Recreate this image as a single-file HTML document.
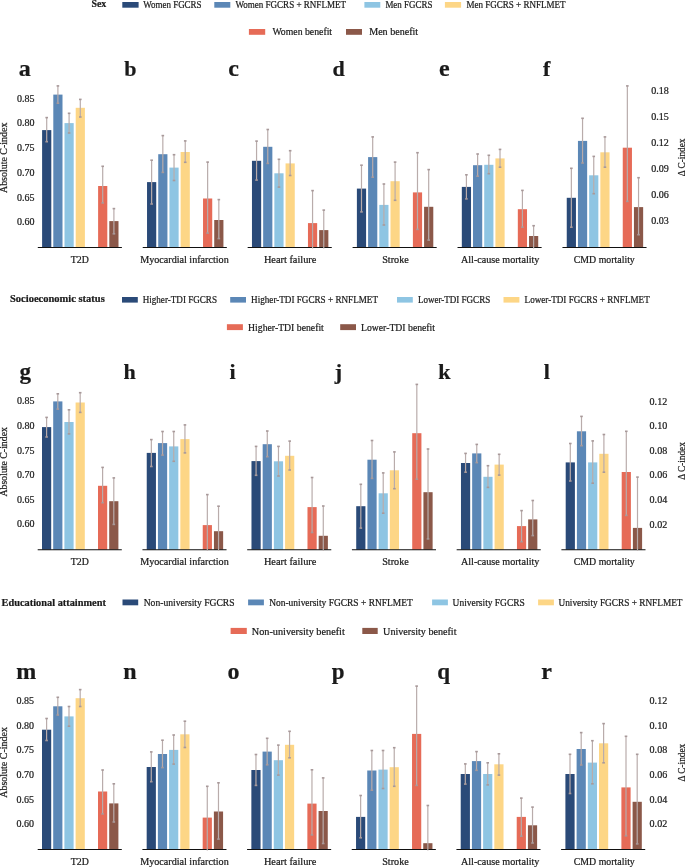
<!DOCTYPE html>
<html><head><meta charset="utf-8"><style>
html,body{margin:0;padding:0;background:#fff;width:685px;height:867px;overflow:hidden}
svg{display:block;will-change:transform}
text{font-family:"Liberation Serif", serif;fill:#1a1a1a;stroke:#1a1a1a;stroke-width:0.22px}
.e{stroke:#b9acab;stroke-width:1.2}
.c{fill:#a8999a}
.ax{stroke:#111;stroke-width:1.1}
</style></head><body>
<svg width="685" height="867" viewBox="0 0 685 867">
<rect x="42.1" y="130.1" width="9.2" height="117.4" fill="#2a4a78"/>
<rect x="53.3" y="94.6" width="9.2" height="152.9" fill="#5b87b6"/>
<rect x="64.5" y="123.1" width="9.2" height="124.4" fill="#8ec5e3"/>
<rect x="75.7" y="107.8" width="9.2" height="139.7" fill="#fdd686"/>
<rect x="98.1" y="186" width="9.2" height="61.5" fill="#e66b57"/>
<rect x="109.3" y="221.1" width="9.2" height="26.4" fill="#8b5849"/>
<line x1="37.8" y1="247.5" x2="121.9" y2="247.5" class="ax"/>
<line x1="46.7" y1="117.6" x2="46.7" y2="141.7" class="e"/>
<rect x="45.4" y="116.8" width="2.6" height="1.6" class="c"/>
<rect x="45.4" y="140.9" width="2.6" height="1.6" class="c"/>
<line x1="57.9" y1="85.9" x2="57.9" y2="103.2" class="e"/>
<rect x="56.6" y="85.1" width="2.6" height="1.6" class="c"/>
<rect x="56.6" y="102.4" width="2.6" height="1.6" class="c"/>
<line x1="69.1" y1="113.3" x2="69.1" y2="133" class="e"/>
<rect x="67.8" y="112.5" width="2.6" height="1.6" class="c"/>
<rect x="67.8" y="132.2" width="2.6" height="1.6" class="c"/>
<line x1="80.3" y1="99.4" x2="80.3" y2="117" class="e"/>
<rect x="79" y="98.6" width="2.6" height="1.6" class="c"/>
<rect x="79" y="116.2" width="2.6" height="1.6" class="c"/>
<line x1="102.7" y1="166.3" x2="102.7" y2="202.9" class="e"/>
<rect x="101.4" y="165.5" width="2.6" height="1.6" class="c"/>
<rect x="101.4" y="202.1" width="2.6" height="1.6" class="c"/>
<line x1="113.9" y1="208.6" x2="113.9" y2="233.8" class="e"/>
<rect x="112.6" y="207.8" width="2.6" height="1.6" class="c"/>
<rect x="112.6" y="233" width="2.6" height="1.6" class="c"/>
<text x="79.8" y="263" font-size="10" text-anchor="middle" textLength="18" lengthAdjust="spacingAndGlyphs">T2D</text>
<text x="24.8" y="76" font-size="24" font-weight="bold" text-anchor="middle">a</text>
<rect x="147.03" y="182.1" width="9.2" height="65.4" fill="#2a4a78"/>
<rect x="158.23" y="154.2" width="9.2" height="93.3" fill="#5b87b6"/>
<rect x="169.43" y="167.6" width="9.2" height="79.9" fill="#8ec5e3"/>
<rect x="180.63" y="152" width="9.2" height="95.5" fill="#fdd686"/>
<rect x="203.03" y="198.5" width="9.2" height="49" fill="#e66b57"/>
<rect x="214.23" y="220" width="9.2" height="27.5" fill="#8b5849"/>
<line x1="142.73" y1="247.5" x2="226.83" y2="247.5" class="ax"/>
<line x1="151.63" y1="160.2" x2="151.63" y2="204" class="e"/>
<rect x="150.33" y="159.4" width="2.6" height="1.6" class="c"/>
<rect x="150.33" y="203.2" width="2.6" height="1.6" class="c"/>
<line x1="162.83" y1="135.6" x2="162.83" y2="172.4" class="e"/>
<rect x="161.53" y="134.8" width="2.6" height="1.6" class="c"/>
<rect x="161.53" y="171.6" width="2.6" height="1.6" class="c"/>
<line x1="174.03" y1="154.7" x2="174.03" y2="180.5" class="e"/>
<rect x="172.73" y="153.9" width="2.6" height="1.6" class="c"/>
<rect x="172.73" y="179.7" width="2.6" height="1.6" class="c"/>
<line x1="185.23" y1="140.9" x2="185.23" y2="162.3" class="e"/>
<rect x="183.93" y="140.1" width="2.6" height="1.6" class="c"/>
<rect x="183.93" y="161.5" width="2.6" height="1.6" class="c"/>
<line x1="207.63" y1="162.1" x2="207.63" y2="233.1" class="e"/>
<rect x="206.33" y="161.3" width="2.6" height="1.6" class="c"/>
<rect x="206.33" y="232.3" width="2.6" height="1.6" class="c"/>
<line x1="218.83" y1="199.6" x2="218.83" y2="238.6" class="e"/>
<rect x="217.53" y="198.8" width="2.6" height="1.6" class="c"/>
<rect x="217.53" y="237.8" width="2.6" height="1.6" class="c"/>
<text x="184.45" y="263" font-size="10" text-anchor="middle" textLength="88.5" lengthAdjust="spacingAndGlyphs">Myocardial infarction</text>
<text x="130.3" y="76" font-size="22" font-weight="bold" text-anchor="middle">b</text>
<rect x="251.96" y="160.8" width="9.2" height="86.7" fill="#2a4a78"/>
<rect x="263.16" y="146.8" width="9.2" height="100.7" fill="#5b87b6"/>
<rect x="274.36" y="173.3" width="9.2" height="74.2" fill="#8ec5e3"/>
<rect x="285.56" y="163.4" width="9.2" height="84.1" fill="#fdd686"/>
<rect x="307.96" y="223.1" width="9.2" height="24.4" fill="#e66b57"/>
<rect x="319.16" y="230.1" width="9.2" height="17.4" fill="#8b5849"/>
<line x1="247.66" y1="247.5" x2="331.76" y2="247.5" class="ax"/>
<line x1="256.56" y1="141.1" x2="256.56" y2="180.1" class="e"/>
<rect x="255.26" y="140.3" width="2.6" height="1.6" class="c"/>
<rect x="255.26" y="179.3" width="2.6" height="1.6" class="c"/>
<line x1="267.76" y1="129.5" x2="267.76" y2="163.4" class="e"/>
<rect x="266.46" y="128.7" width="2.6" height="1.6" class="c"/>
<rect x="266.46" y="162.6" width="2.6" height="1.6" class="c"/>
<line x1="278.96" y1="159.3" x2="278.96" y2="187.1" class="e"/>
<rect x="277.66" y="158.5" width="2.6" height="1.6" class="c"/>
<rect x="277.66" y="186.3" width="2.6" height="1.6" class="c"/>
<line x1="290.16" y1="150.7" x2="290.16" y2="175.5" class="e"/>
<rect x="288.86" y="149.9" width="2.6" height="1.6" class="c"/>
<rect x="288.86" y="174.7" width="2.6" height="1.6" class="c"/>
<line x1="312.56" y1="190.6" x2="312.56" y2="248.5" class="e"/>
<rect x="311.26" y="189.8" width="2.6" height="1.6" class="c"/>
<line x1="323.76" y1="210.1" x2="323.76" y2="248.5" class="e"/>
<rect x="322.46" y="209.3" width="2.6" height="1.6" class="c"/>
<text x="290.15" y="263" font-size="10" text-anchor="middle" textLength="52.5" lengthAdjust="spacingAndGlyphs">Heart failure</text>
<text x="233.7" y="76" font-size="24" font-weight="bold" text-anchor="middle">c</text>
<rect x="356.89" y="188.6" width="9.2" height="58.9" fill="#2a4a78"/>
<rect x="368.09" y="157.1" width="9.2" height="90.4" fill="#5b87b6"/>
<rect x="379.29" y="204.9" width="9.2" height="42.6" fill="#8ec5e3"/>
<rect x="390.49" y="181.2" width="9.2" height="66.3" fill="#fdd686"/>
<rect x="412.89" y="192.4" width="9.2" height="55.1" fill="#e66b57"/>
<rect x="424.09" y="206.8" width="9.2" height="40.7" fill="#8b5849"/>
<line x1="352.59" y1="247.5" x2="436.69" y2="247.5" class="ax"/>
<line x1="361.49" y1="165.2" x2="361.49" y2="211.9" class="e"/>
<rect x="360.19" y="164.4" width="2.6" height="1.6" class="c"/>
<rect x="360.19" y="211.1" width="2.6" height="1.6" class="c"/>
<line x1="372.69" y1="136.9" x2="372.69" y2="177.2" class="e"/>
<rect x="371.39" y="136.1" width="2.6" height="1.6" class="c"/>
<rect x="371.39" y="176.4" width="2.6" height="1.6" class="c"/>
<line x1="383.89" y1="184" x2="383.89" y2="225" class="e"/>
<rect x="382.59" y="183.2" width="2.6" height="1.6" class="c"/>
<rect x="382.59" y="224.2" width="2.6" height="1.6" class="c"/>
<line x1="395.09" y1="162.1" x2="395.09" y2="200.3" class="e"/>
<rect x="393.79" y="161.3" width="2.6" height="1.6" class="c"/>
<rect x="393.79" y="199.5" width="2.6" height="1.6" class="c"/>
<line x1="417.49" y1="152.7" x2="417.49" y2="229.4" class="e"/>
<rect x="416.19" y="151.9" width="2.6" height="1.6" class="c"/>
<rect x="416.19" y="228.6" width="2.6" height="1.6" class="c"/>
<line x1="428.69" y1="169.6" x2="428.69" y2="240.1" class="e"/>
<rect x="427.39" y="168.8" width="2.6" height="1.6" class="c"/>
<rect x="427.39" y="239.3" width="2.6" height="1.6" class="c"/>
<text x="395.5" y="263" font-size="10" text-anchor="middle" textLength="26.6" lengthAdjust="spacingAndGlyphs">Stroke</text>
<text x="338.5" y="76" font-size="22" font-weight="bold" text-anchor="middle">d</text>
<rect x="461.82" y="186.9" width="9.2" height="60.6" fill="#2a4a78"/>
<rect x="473.02" y="165.2" width="9.2" height="82.3" fill="#5b87b6"/>
<rect x="484.22" y="164.8" width="9.2" height="82.7" fill="#8ec5e3"/>
<rect x="495.42" y="158.4" width="9.2" height="89.1" fill="#fdd686"/>
<rect x="517.82" y="209.2" width="9.2" height="38.3" fill="#e66b57"/>
<rect x="529.02" y="236" width="9.2" height="11.5" fill="#8b5849"/>
<line x1="457.52" y1="247.5" x2="541.62" y2="247.5" class="ax"/>
<line x1="466.42" y1="174.8" x2="466.42" y2="198.9" class="e"/>
<rect x="465.12" y="174" width="2.6" height="1.6" class="c"/>
<rect x="465.12" y="198.1" width="2.6" height="1.6" class="c"/>
<line x1="477.62" y1="154" x2="477.62" y2="176.2" class="e"/>
<rect x="476.32" y="153.2" width="2.6" height="1.6" class="c"/>
<rect x="476.32" y="175.4" width="2.6" height="1.6" class="c"/>
<line x1="488.82" y1="155.3" x2="488.82" y2="173.7" class="e"/>
<rect x="487.52" y="154.5" width="2.6" height="1.6" class="c"/>
<rect x="487.52" y="172.9" width="2.6" height="1.6" class="c"/>
<line x1="500.02" y1="149.4" x2="500.02" y2="167.2" class="e"/>
<rect x="498.72" y="148.6" width="2.6" height="1.6" class="c"/>
<rect x="498.72" y="166.4" width="2.6" height="1.6" class="c"/>
<line x1="522.42" y1="190.4" x2="522.42" y2="227.2" class="e"/>
<rect x="521.12" y="189.6" width="2.6" height="1.6" class="c"/>
<rect x="521.12" y="226.4" width="2.6" height="1.6" class="c"/>
<line x1="533.62" y1="225.7" x2="533.62" y2="248.5" class="e"/>
<rect x="532.32" y="224.9" width="2.6" height="1.6" class="c"/>
<text x="500.2" y="263" font-size="10" text-anchor="middle" textLength="78.4" lengthAdjust="spacingAndGlyphs">All-cause mortality</text>
<text x="444.4" y="76" font-size="24" font-weight="bold" text-anchor="middle">e</text>
<rect x="566.75" y="197.8" width="9.2" height="49.7" fill="#2a4a78"/>
<rect x="577.95" y="140.9" width="9.2" height="106.6" fill="#5b87b6"/>
<rect x="589.15" y="175.3" width="9.2" height="72.2" fill="#8ec5e3"/>
<rect x="600.35" y="152.3" width="9.2" height="95.2" fill="#fdd686"/>
<rect x="622.75" y="147.7" width="9.2" height="99.8" fill="#e66b57"/>
<rect x="633.95" y="207.1" width="9.2" height="40.4" fill="#8b5849"/>
<line x1="562.45" y1="247.5" x2="646.55" y2="247.5" class="ax"/>
<line x1="571.35" y1="168.3" x2="571.35" y2="227.2" class="e"/>
<rect x="570.05" y="167.5" width="2.6" height="1.6" class="c"/>
<rect x="570.05" y="226.4" width="2.6" height="1.6" class="c"/>
<line x1="582.55" y1="118.3" x2="582.55" y2="163" class="e"/>
<rect x="581.25" y="117.5" width="2.6" height="1.6" class="c"/>
<rect x="581.25" y="162.2" width="2.6" height="1.6" class="c"/>
<line x1="593.75" y1="156.4" x2="593.75" y2="193.7" class="e"/>
<rect x="592.45" y="155.6" width="2.6" height="1.6" class="c"/>
<rect x="592.45" y="192.9" width="2.6" height="1.6" class="c"/>
<line x1="604.95" y1="136.9" x2="604.95" y2="167.2" class="e"/>
<rect x="603.65" y="136.1" width="2.6" height="1.6" class="c"/>
<rect x="603.65" y="166.4" width="2.6" height="1.6" class="c"/>
<line x1="627.35" y1="85.9" x2="627.35" y2="201.4" class="e"/>
<rect x="626.05" y="85.1" width="2.6" height="1.6" class="c"/>
<rect x="626.05" y="200.6" width="2.6" height="1.6" class="c"/>
<line x1="638.55" y1="177.7" x2="638.55" y2="234.7" class="e"/>
<rect x="637.25" y="176.9" width="2.6" height="1.6" class="c"/>
<rect x="637.25" y="233.9" width="2.6" height="1.6" class="c"/>
<text x="604.3" y="263" font-size="10" text-anchor="middle" textLength="61" lengthAdjust="spacingAndGlyphs">CMD mortality</text>
<text x="546.7" y="76" font-size="22" font-weight="bold" text-anchor="middle">f</text>
<text x="34.6" y="101.8" font-size="10" text-anchor="end" textLength="17.5" lengthAdjust="spacingAndGlyphs">0.85</text>
<text x="34.6" y="126.4" font-size="10" text-anchor="end" textLength="17.5" lengthAdjust="spacingAndGlyphs">0.80</text>
<text x="34.6" y="151" font-size="10" text-anchor="end" textLength="17.5" lengthAdjust="spacingAndGlyphs">0.75</text>
<text x="34.6" y="175.8" font-size="10" text-anchor="end" textLength="17.5" lengthAdjust="spacingAndGlyphs">0.70</text>
<text x="34.6" y="200.6" font-size="10" text-anchor="end" textLength="17.5" lengthAdjust="spacingAndGlyphs">0.65</text>
<text x="34.6" y="225.4" font-size="10" text-anchor="end" textLength="17.5" lengthAdjust="spacingAndGlyphs">0.60</text>
<text x="651.3" y="94.1" font-size="10" textLength="17.6" lengthAdjust="spacingAndGlyphs">0.18</text>
<text x="651.3" y="120.2" font-size="10" textLength="17.6" lengthAdjust="spacingAndGlyphs">0.15</text>
<text x="651.3" y="146" font-size="10" textLength="17.6" lengthAdjust="spacingAndGlyphs">0.12</text>
<text x="651.3" y="171.9" font-size="10" textLength="17.6" lengthAdjust="spacingAndGlyphs">0.09</text>
<text x="651.3" y="197.9" font-size="10" textLength="17.6" lengthAdjust="spacingAndGlyphs">0.06</text>
<text x="651.3" y="223.9" font-size="10" textLength="17.6" lengthAdjust="spacingAndGlyphs">0.03</text>
<text x="0" y="0" font-size="9.5" text-anchor="middle" textLength="70.5" lengthAdjust="spacingAndGlyphs" transform="translate(7.2,157.8) rotate(-90)">Absolute C-index</text>
<text x="0" y="0" font-size="9.5" text-anchor="middle" textLength="37.7" lengthAdjust="spacingAndGlyphs" transform="translate(685.3,157.4) rotate(-90)">Δ C-index</text>
<rect x="42" y="427.1" width="9.2" height="122.6" fill="#2a4a78"/>
<rect x="53.2" y="401.4" width="9.2" height="148.3" fill="#5b87b6"/>
<rect x="64.4" y="422" width="9.2" height="127.7" fill="#8ec5e3"/>
<rect x="75.6" y="402.5" width="9.2" height="147.2" fill="#fdd686"/>
<rect x="98" y="485.8" width="9.2" height="63.9" fill="#e66b57"/>
<rect x="109.2" y="501.2" width="9.2" height="48.5" fill="#8b5849"/>
<line x1="37.7" y1="549.7" x2="121.8" y2="549.7" class="ax"/>
<line x1="46.6" y1="417.4" x2="46.6" y2="437" class="e"/>
<rect x="45.3" y="416.6" width="2.6" height="1.6" class="c"/>
<rect x="45.3" y="436.2" width="2.6" height="1.6" class="c"/>
<line x1="57.8" y1="393.8" x2="57.8" y2="409.1" class="e"/>
<rect x="56.5" y="393" width="2.6" height="1.6" class="c"/>
<rect x="56.5" y="408.3" width="2.6" height="1.6" class="c"/>
<line x1="69" y1="409.8" x2="69" y2="433.9" class="e"/>
<rect x="67.7" y="409" width="2.6" height="1.6" class="c"/>
<rect x="67.7" y="433.1" width="2.6" height="1.6" class="c"/>
<line x1="80.2" y1="392.7" x2="80.2" y2="412.4" class="e"/>
<rect x="78.9" y="391.9" width="2.6" height="1.6" class="c"/>
<rect x="78.9" y="411.6" width="2.6" height="1.6" class="c"/>
<line x1="102.6" y1="467.4" x2="102.6" y2="502.7" class="e"/>
<rect x="101.3" y="466.6" width="2.6" height="1.6" class="c"/>
<rect x="101.3" y="501.9" width="2.6" height="1.6" class="c"/>
<line x1="113.8" y1="477.9" x2="113.8" y2="524.4" class="e"/>
<rect x="112.5" y="477.1" width="2.6" height="1.6" class="c"/>
<rect x="112.5" y="523.6" width="2.6" height="1.6" class="c"/>
<text x="79.8" y="565.4" font-size="10" text-anchor="middle" textLength="18" lengthAdjust="spacingAndGlyphs">T2D</text>
<text x="25.3" y="378.8" font-size="23" font-weight="bold" text-anchor="middle">g</text>
<rect x="146.74" y="452.9" width="9.2" height="96.8" fill="#2a4a78"/>
<rect x="157.94" y="443.1" width="9.2" height="106.6" fill="#5b87b6"/>
<rect x="169.14" y="446.4" width="9.2" height="103.3" fill="#8ec5e3"/>
<rect x="180.34" y="439.1" width="9.2" height="110.6" fill="#fdd686"/>
<rect x="202.74" y="525.1" width="9.2" height="24.6" fill="#e66b57"/>
<rect x="213.94" y="531.2" width="9.2" height="18.5" fill="#8b5849"/>
<line x1="142.44" y1="549.7" x2="226.54" y2="549.7" class="ax"/>
<line x1="151.34" y1="439.6" x2="151.34" y2="466.5" class="e"/>
<rect x="150.04" y="438.8" width="2.6" height="1.6" class="c"/>
<rect x="150.04" y="465.7" width="2.6" height="1.6" class="c"/>
<line x1="162.54" y1="431.5" x2="162.54" y2="455.1" class="e"/>
<rect x="161.24" y="430.7" width="2.6" height="1.6" class="c"/>
<rect x="161.24" y="454.3" width="2.6" height="1.6" class="c"/>
<line x1="173.74" y1="431.5" x2="173.74" y2="461.3" class="e"/>
<rect x="172.44" y="430.7" width="2.6" height="1.6" class="c"/>
<rect x="172.44" y="460.5" width="2.6" height="1.6" class="c"/>
<line x1="184.94" y1="424.9" x2="184.94" y2="452.9" class="e"/>
<rect x="183.64" y="424.1" width="2.6" height="1.6" class="c"/>
<rect x="183.64" y="452.1" width="2.6" height="1.6" class="c"/>
<line x1="207.34" y1="494.6" x2="207.34" y2="550.7" class="e"/>
<rect x="206.04" y="493.8" width="2.6" height="1.6" class="c"/>
<line x1="218.54" y1="506.2" x2="218.54" y2="550.7" class="e"/>
<rect x="217.24" y="505.4" width="2.6" height="1.6" class="c"/>
<text x="184.45" y="565.4" font-size="10" text-anchor="middle" textLength="88.5" lengthAdjust="spacingAndGlyphs">Myocardial infarction</text>
<text x="129.5" y="378.8" font-size="22" font-weight="bold" text-anchor="middle">h</text>
<rect x="251.48" y="461.1" width="9.2" height="88.6" fill="#2a4a78"/>
<rect x="262.68" y="444.2" width="9.2" height="105.5" fill="#5b87b6"/>
<rect x="273.88" y="461.3" width="9.2" height="88.4" fill="#8ec5e3"/>
<rect x="285.08" y="455.8" width="9.2" height="93.9" fill="#fdd686"/>
<rect x="307.48" y="507.1" width="9.2" height="42.6" fill="#e66b57"/>
<rect x="318.68" y="535.8" width="9.2" height="13.9" fill="#8b5849"/>
<line x1="247.18" y1="549.7" x2="331.28" y2="549.7" class="ax"/>
<line x1="256.08" y1="446.4" x2="256.08" y2="475.3" class="e"/>
<rect x="254.78" y="445.6" width="2.6" height="1.6" class="c"/>
<rect x="254.78" y="474.5" width="2.6" height="1.6" class="c"/>
<line x1="267.28" y1="431" x2="267.28" y2="456.7" class="e"/>
<rect x="265.98" y="430.2" width="2.6" height="1.6" class="c"/>
<rect x="265.98" y="455.9" width="2.6" height="1.6" class="c"/>
<line x1="278.48" y1="446.4" x2="278.48" y2="476" class="e"/>
<rect x="277.18" y="445.6" width="2.6" height="1.6" class="c"/>
<rect x="277.18" y="475.2" width="2.6" height="1.6" class="c"/>
<line x1="289.68" y1="441.1" x2="289.68" y2="470" class="e"/>
<rect x="288.38" y="440.3" width="2.6" height="1.6" class="c"/>
<rect x="288.38" y="469.2" width="2.6" height="1.6" class="c"/>
<line x1="312.08" y1="477.5" x2="312.08" y2="532.5" class="e"/>
<rect x="310.78" y="476.7" width="2.6" height="1.6" class="c"/>
<rect x="310.78" y="531.7" width="2.6" height="1.6" class="c"/>
<line x1="323.28" y1="506" x2="323.28" y2="550.7" class="e"/>
<rect x="321.98" y="505.2" width="2.6" height="1.6" class="c"/>
<text x="290.15" y="565.4" font-size="10" text-anchor="middle" textLength="52.5" lengthAdjust="spacingAndGlyphs">Heart failure</text>
<text x="232.6" y="378.8" font-size="22" font-weight="bold" text-anchor="middle">i</text>
<rect x="356.22" y="506.2" width="9.2" height="43.5" fill="#2a4a78"/>
<rect x="367.42" y="459.7" width="9.2" height="90" fill="#5b87b6"/>
<rect x="378.62" y="493.3" width="9.2" height="56.4" fill="#8ec5e3"/>
<rect x="389.82" y="470.3" width="9.2" height="79.4" fill="#fdd686"/>
<rect x="412.22" y="433.2" width="9.2" height="116.5" fill="#e66b57"/>
<rect x="423.42" y="492.2" width="9.2" height="57.5" fill="#8b5849"/>
<line x1="351.92" y1="549.7" x2="436.02" y2="549.7" class="ax"/>
<line x1="360.82" y1="484.3" x2="360.82" y2="528.1" class="e"/>
<rect x="359.52" y="483.5" width="2.6" height="1.6" class="c"/>
<rect x="359.52" y="527.3" width="2.6" height="1.6" class="c"/>
<line x1="372.02" y1="440.5" x2="372.02" y2="478.4" class="e"/>
<rect x="370.72" y="439.7" width="2.6" height="1.6" class="c"/>
<rect x="370.72" y="477.6" width="2.6" height="1.6" class="c"/>
<line x1="383.22" y1="472.9" x2="383.22" y2="513.2" class="e"/>
<rect x="381.92" y="472.1" width="2.6" height="1.6" class="c"/>
<rect x="381.92" y="512.4" width="2.6" height="1.6" class="c"/>
<line x1="394.42" y1="451.9" x2="394.42" y2="488.7" class="e"/>
<rect x="393.12" y="451.1" width="2.6" height="1.6" class="c"/>
<rect x="393.12" y="487.9" width="2.6" height="1.6" class="c"/>
<line x1="416.82" y1="384.4" x2="416.82" y2="479.2" class="e"/>
<rect x="415.52" y="383.6" width="2.6" height="1.6" class="c"/>
<rect x="415.52" y="478.4" width="2.6" height="1.6" class="c"/>
<line x1="428.02" y1="449" x2="428.02" y2="538.9" class="e"/>
<rect x="426.72" y="448.2" width="2.6" height="1.6" class="c"/>
<rect x="426.72" y="538.1" width="2.6" height="1.6" class="c"/>
<text x="395.5" y="565.4" font-size="10" text-anchor="middle" textLength="26.6" lengthAdjust="spacingAndGlyphs">Stroke</text>
<text x="338.3" y="378.8" font-size="22" font-weight="bold" text-anchor="middle">j</text>
<rect x="460.96" y="463" width="9.2" height="86.7" fill="#2a4a78"/>
<rect x="472.16" y="453.4" width="9.2" height="96.3" fill="#5b87b6"/>
<rect x="483.36" y="476.8" width="9.2" height="72.9" fill="#8ec5e3"/>
<rect x="494.56" y="464.6" width="9.2" height="85.1" fill="#fdd686"/>
<rect x="516.96" y="526.1" width="9.2" height="23.6" fill="#e66b57"/>
<rect x="528.16" y="519.4" width="9.2" height="30.3" fill="#8b5849"/>
<line x1="456.66" y1="549.7" x2="540.76" y2="549.7" class="ax"/>
<line x1="465.56" y1="453.4" x2="465.56" y2="472.2" class="e"/>
<rect x="464.26" y="452.6" width="2.6" height="1.6" class="c"/>
<rect x="464.26" y="471.4" width="2.6" height="1.6" class="c"/>
<line x1="476.76" y1="444.4" x2="476.76" y2="462.6" class="e"/>
<rect x="475.46" y="443.6" width="2.6" height="1.6" class="c"/>
<rect x="475.46" y="461.8" width="2.6" height="1.6" class="c"/>
<line x1="487.96" y1="465.7" x2="487.96" y2="487.4" class="e"/>
<rect x="486.66" y="464.9" width="2.6" height="1.6" class="c"/>
<rect x="486.66" y="486.6" width="2.6" height="1.6" class="c"/>
<line x1="499.16" y1="454.3" x2="499.16" y2="475.1" class="e"/>
<rect x="497.86" y="453.5" width="2.6" height="1.6" class="c"/>
<rect x="497.86" y="474.3" width="2.6" height="1.6" class="c"/>
<line x1="521.56" y1="510.6" x2="521.56" y2="541.7" class="e"/>
<rect x="520.26" y="509.8" width="2.6" height="1.6" class="c"/>
<rect x="520.26" y="540.9" width="2.6" height="1.6" class="c"/>
<line x1="532.76" y1="500.5" x2="532.76" y2="535.6" class="e"/>
<rect x="531.46" y="499.7" width="2.6" height="1.6" class="c"/>
<rect x="531.46" y="534.8" width="2.6" height="1.6" class="c"/>
<text x="500.2" y="565.4" font-size="10" text-anchor="middle" textLength="78.4" lengthAdjust="spacingAndGlyphs">All-cause mortality</text>
<text x="444.3" y="378.8" font-size="22" font-weight="bold" text-anchor="middle">k</text>
<rect x="565.7" y="462.4" width="9.2" height="87.3" fill="#2a4a78"/>
<rect x="576.9" y="431.3" width="9.2" height="118.4" fill="#5b87b6"/>
<rect x="588.1" y="462.4" width="9.2" height="87.3" fill="#8ec5e3"/>
<rect x="599.3" y="453.8" width="9.2" height="95.9" fill="#fdd686"/>
<rect x="621.7" y="472" width="9.2" height="77.7" fill="#e66b57"/>
<rect x="632.9" y="527.9" width="9.2" height="21.8" fill="#8b5849"/>
<line x1="561.4" y1="549.7" x2="645.5" y2="549.7" class="ax"/>
<line x1="570.3" y1="443.5" x2="570.3" y2="481" class="e"/>
<rect x="569" y="442.7" width="2.6" height="1.6" class="c"/>
<rect x="569" y="480.2" width="2.6" height="1.6" class="c"/>
<line x1="581.5" y1="416.4" x2="581.5" y2="445.7" class="e"/>
<rect x="580.2" y="415.6" width="2.6" height="1.6" class="c"/>
<rect x="580.2" y="444.9" width="2.6" height="1.6" class="c"/>
<line x1="592.7" y1="440.9" x2="592.7" y2="483.2" class="e"/>
<rect x="591.4" y="440.1" width="2.6" height="1.6" class="c"/>
<rect x="591.4" y="482.4" width="2.6" height="1.6" class="c"/>
<line x1="603.9" y1="434.5" x2="603.9" y2="472.2" class="e"/>
<rect x="602.6" y="433.7" width="2.6" height="1.6" class="c"/>
<rect x="602.6" y="471.4" width="2.6" height="1.6" class="c"/>
<line x1="626.3" y1="431.3" x2="626.3" y2="515.4" class="e"/>
<rect x="625" y="430.5" width="2.6" height="1.6" class="c"/>
<rect x="625" y="514.6" width="2.6" height="1.6" class="c"/>
<line x1="637.5" y1="477.1" x2="637.5" y2="550.7" class="e"/>
<rect x="636.2" y="476.3" width="2.6" height="1.6" class="c"/>
<text x="604.3" y="565.4" font-size="10" text-anchor="middle" textLength="61" lengthAdjust="spacingAndGlyphs">CMD mortality</text>
<text x="546.7" y="378.8" font-size="22" font-weight="bold" text-anchor="middle">l</text>
<text x="34.5" y="404.3" font-size="10" text-anchor="end" textLength="17.5" lengthAdjust="spacingAndGlyphs">0.85</text>
<text x="34.5" y="429" font-size="10" text-anchor="end" textLength="17.5" lengthAdjust="spacingAndGlyphs">0.80</text>
<text x="34.5" y="453.5" font-size="10" text-anchor="end" textLength="17.5" lengthAdjust="spacingAndGlyphs">0.75</text>
<text x="34.5" y="478.1" font-size="10" text-anchor="end" textLength="17.5" lengthAdjust="spacingAndGlyphs">0.70</text>
<text x="34.5" y="502.8" font-size="10" text-anchor="end" textLength="17.5" lengthAdjust="spacingAndGlyphs">0.65</text>
<text x="34.5" y="527.3" font-size="10" text-anchor="end" textLength="17.5" lengthAdjust="spacingAndGlyphs">0.60</text>
<text x="649.6" y="404.5" font-size="10" textLength="17.6" lengthAdjust="spacingAndGlyphs">0.12</text>
<text x="649.6" y="429.1" font-size="10" textLength="17.6" lengthAdjust="spacingAndGlyphs">0.10</text>
<text x="649.6" y="453.8" font-size="10" textLength="17.6" lengthAdjust="spacingAndGlyphs">0.08</text>
<text x="649.6" y="478.3" font-size="10" textLength="17.6" lengthAdjust="spacingAndGlyphs">0.06</text>
<text x="649.6" y="503" font-size="10" textLength="17.6" lengthAdjust="spacingAndGlyphs">0.04</text>
<text x="649.6" y="527.6" font-size="10" textLength="17.6" lengthAdjust="spacingAndGlyphs">0.02</text>
<text x="0" y="0" font-size="9.5" text-anchor="middle" textLength="69.5" lengthAdjust="spacingAndGlyphs" transform="translate(7.2,461.8) rotate(-90)">Absolute C-index</text>
<text x="0" y="0" font-size="9.5" text-anchor="middle" textLength="37.7" lengthAdjust="spacingAndGlyphs" transform="translate(685.3,461) rotate(-90)">Δ C-index</text>
<rect x="42" y="729.7" width="9.2" height="119.8" fill="#2a4a78"/>
<rect x="53.2" y="706.3" width="9.2" height="143.2" fill="#5b87b6"/>
<rect x="64.4" y="716.4" width="9.2" height="133.1" fill="#8ec5e3"/>
<rect x="75.6" y="698.2" width="9.2" height="151.3" fill="#fdd686"/>
<rect x="98" y="791.5" width="9.2" height="58" fill="#e66b57"/>
<rect x="109.2" y="803.4" width="9.2" height="46.1" fill="#8b5849"/>
<line x1="37.7" y1="849.5" x2="121.8" y2="849.5" class="ax"/>
<line x1="46.6" y1="718.5" x2="46.6" y2="740.5" class="e"/>
<rect x="45.3" y="717.7" width="2.6" height="1.6" class="c"/>
<rect x="45.3" y="739.7" width="2.6" height="1.6" class="c"/>
<line x1="57.8" y1="697.3" x2="57.8" y2="715" class="e"/>
<rect x="56.5" y="696.5" width="2.6" height="1.6" class="c"/>
<rect x="56.5" y="714.2" width="2.6" height="1.6" class="c"/>
<line x1="69" y1="706.5" x2="69" y2="726.2" class="e"/>
<rect x="67.7" y="705.7" width="2.6" height="1.6" class="c"/>
<rect x="67.7" y="725.4" width="2.6" height="1.6" class="c"/>
<line x1="80.2" y1="689.6" x2="80.2" y2="706.5" class="e"/>
<rect x="78.9" y="688.8" width="2.6" height="1.6" class="c"/>
<rect x="78.9" y="705.7" width="2.6" height="1.6" class="c"/>
<line x1="102.6" y1="770" x2="102.6" y2="813.9" class="e"/>
<rect x="101.3" y="769.2" width="2.6" height="1.6" class="c"/>
<rect x="101.3" y="813.1" width="2.6" height="1.6" class="c"/>
<line x1="113.8" y1="783.8" x2="113.8" y2="822" class="e"/>
<rect x="112.5" y="783" width="2.6" height="1.6" class="c"/>
<rect x="112.5" y="821.2" width="2.6" height="1.6" class="c"/>
<text x="79.8" y="865.2" font-size="10" text-anchor="middle" textLength="18" lengthAdjust="spacingAndGlyphs">T2D</text>
<text x="26.2" y="678.6" font-size="24" font-weight="bold" text-anchor="middle">m</text>
<rect x="146.68" y="767" width="9.2" height="82.5" fill="#2a4a78"/>
<rect x="157.88" y="754" width="9.2" height="95.5" fill="#5b87b6"/>
<rect x="169.08" y="749.9" width="9.2" height="99.6" fill="#8ec5e3"/>
<rect x="180.28" y="734.3" width="9.2" height="115.2" fill="#fdd686"/>
<rect x="202.68" y="817.6" width="9.2" height="31.9" fill="#e66b57"/>
<rect x="213.88" y="811.5" width="9.2" height="38" fill="#8b5849"/>
<line x1="142.38" y1="849.5" x2="226.48" y2="849.5" class="ax"/>
<line x1="151.28" y1="751.9" x2="151.28" y2="781.7" class="e"/>
<rect x="149.98" y="751.1" width="2.6" height="1.6" class="c"/>
<rect x="149.98" y="780.9" width="2.6" height="1.6" class="c"/>
<line x1="162.48" y1="740.2" x2="162.48" y2="767.6" class="e"/>
<rect x="161.18" y="739.4" width="2.6" height="1.6" class="c"/>
<rect x="161.18" y="766.8" width="2.6" height="1.6" class="c"/>
<line x1="173.68" y1="735" x2="173.68" y2="764.1" class="e"/>
<rect x="172.38" y="734.2" width="2.6" height="1.6" class="c"/>
<rect x="172.38" y="763.3" width="2.6" height="1.6" class="c"/>
<line x1="184.88" y1="721.2" x2="184.88" y2="747.5" class="e"/>
<rect x="183.58" y="720.4" width="2.6" height="1.6" class="c"/>
<rect x="183.58" y="746.7" width="2.6" height="1.6" class="c"/>
<line x1="207.28" y1="786.3" x2="207.28" y2="850.5" class="e"/>
<rect x="205.98" y="785.5" width="2.6" height="1.6" class="c"/>
<line x1="218.48" y1="782.8" x2="218.48" y2="839.1" class="e"/>
<rect x="217.18" y="782" width="2.6" height="1.6" class="c"/>
<rect x="217.18" y="838.3" width="2.6" height="1.6" class="c"/>
<text x="184.45" y="865.2" font-size="10" text-anchor="middle" textLength="88.5" lengthAdjust="spacingAndGlyphs">Myocardial infarction</text>
<text x="130" y="678.6" font-size="24" font-weight="bold" text-anchor="middle">n</text>
<rect x="251.36" y="770" width="9.2" height="79.5" fill="#2a4a78"/>
<rect x="262.56" y="751.6" width="9.2" height="97.9" fill="#5b87b6"/>
<rect x="273.76" y="760.2" width="9.2" height="89.3" fill="#8ec5e3"/>
<rect x="284.96" y="744.8" width="9.2" height="104.7" fill="#fdd686"/>
<rect x="307.36" y="803.6" width="9.2" height="45.9" fill="#e66b57"/>
<rect x="318.56" y="811" width="9.2" height="38.5" fill="#8b5849"/>
<line x1="247.06" y1="849.5" x2="331.16" y2="849.5" class="ax"/>
<line x1="255.96" y1="754.5" x2="255.96" y2="785.4" class="e"/>
<rect x="254.66" y="753.7" width="2.6" height="1.6" class="c"/>
<rect x="254.66" y="784.6" width="2.6" height="1.6" class="c"/>
<line x1="267.16" y1="738.3" x2="267.16" y2="764.8" class="e"/>
<rect x="265.86" y="737.5" width="2.6" height="1.6" class="c"/>
<rect x="265.86" y="764" width="2.6" height="1.6" class="c"/>
<line x1="278.36" y1="745.1" x2="278.36" y2="775.1" class="e"/>
<rect x="277.06" y="744.3" width="2.6" height="1.6" class="c"/>
<rect x="277.06" y="774.3" width="2.6" height="1.6" class="c"/>
<line x1="289.56" y1="731.3" x2="289.56" y2="757.8" class="e"/>
<rect x="288.26" y="730.5" width="2.6" height="1.6" class="c"/>
<rect x="288.26" y="757" width="2.6" height="1.6" class="c"/>
<line x1="311.96" y1="769.8" x2="311.96" y2="834.9" class="e"/>
<rect x="310.66" y="769" width="2.6" height="1.6" class="c"/>
<rect x="310.66" y="834.1" width="2.6" height="1.6" class="c"/>
<line x1="323.16" y1="777.9" x2="323.16" y2="843.5" class="e"/>
<rect x="321.86" y="777.1" width="2.6" height="1.6" class="c"/>
<rect x="321.86" y="842.7" width="2.6" height="1.6" class="c"/>
<text x="290.15" y="865.2" font-size="10" text-anchor="middle" textLength="52.5" lengthAdjust="spacingAndGlyphs">Heart failure</text>
<text x="233.5" y="678.6" font-size="24" font-weight="bold" text-anchor="middle">o</text>
<rect x="356.04" y="816.9" width="9.2" height="32.6" fill="#2a4a78"/>
<rect x="367.24" y="770.5" width="9.2" height="79" fill="#5b87b6"/>
<rect x="378.44" y="769.6" width="9.2" height="79.9" fill="#8ec5e3"/>
<rect x="389.64" y="767.2" width="9.2" height="82.3" fill="#fdd686"/>
<rect x="412.04" y="733.9" width="9.2" height="115.6" fill="#e66b57"/>
<rect x="423.24" y="843.2" width="9.2" height="6.3" fill="#8b5849"/>
<line x1="351.74" y1="849.5" x2="435.84" y2="849.5" class="ax"/>
<line x1="360.64" y1="795.5" x2="360.64" y2="837.8" class="e"/>
<rect x="359.34" y="794.7" width="2.6" height="1.6" class="c"/>
<rect x="359.34" y="837" width="2.6" height="1.6" class="c"/>
<line x1="371.84" y1="750.5" x2="371.84" y2="790.2" class="e"/>
<rect x="370.54" y="749.7" width="2.6" height="1.6" class="c"/>
<rect x="370.54" y="789.4" width="2.6" height="1.6" class="c"/>
<line x1="383.04" y1="750.5" x2="383.04" y2="788.5" class="e"/>
<rect x="381.74" y="749.7" width="2.6" height="1.6" class="c"/>
<rect x="381.74" y="787.7" width="2.6" height="1.6" class="c"/>
<line x1="394.24" y1="747.7" x2="394.24" y2="786.3" class="e"/>
<rect x="392.94" y="746.9" width="2.6" height="1.6" class="c"/>
<rect x="392.94" y="785.5" width="2.6" height="1.6" class="c"/>
<line x1="416.64" y1="686.1" x2="416.64" y2="785.4" class="e"/>
<rect x="415.34" y="685.3" width="2.6" height="1.6" class="c"/>
<rect x="415.34" y="784.6" width="2.6" height="1.6" class="c"/>
<line x1="427.84" y1="805.5" x2="427.84" y2="850.5" class="e"/>
<rect x="426.54" y="804.7" width="2.6" height="1.6" class="c"/>
<text x="395.5" y="865.2" font-size="10" text-anchor="middle" textLength="26.6" lengthAdjust="spacingAndGlyphs">Stroke</text>
<text x="338.1" y="678.6" font-size="23" font-weight="bold" text-anchor="middle">p</text>
<rect x="460.72" y="774" width="9.2" height="75.5" fill="#2a4a78"/>
<rect x="471.92" y="761.1" width="9.2" height="88.4" fill="#5b87b6"/>
<rect x="483.12" y="774" width="9.2" height="75.5" fill="#8ec5e3"/>
<rect x="494.32" y="764.3" width="9.2" height="85.2" fill="#fdd686"/>
<rect x="516.72" y="816.9" width="9.2" height="32.6" fill="#e66b57"/>
<rect x="527.92" y="825.3" width="9.2" height="24.2" fill="#8b5849"/>
<line x1="456.42" y1="849.5" x2="540.52" y2="849.5" class="ax"/>
<line x1="465.32" y1="763.9" x2="465.32" y2="784.1" class="e"/>
<rect x="464.02" y="763.1" width="2.6" height="1.6" class="c"/>
<rect x="464.02" y="783.3" width="2.6" height="1.6" class="c"/>
<line x1="476.52" y1="751.6" x2="476.52" y2="770.3" class="e"/>
<rect x="475.22" y="750.8" width="2.6" height="1.6" class="c"/>
<rect x="475.22" y="769.5" width="2.6" height="1.6" class="c"/>
<line x1="487.72" y1="762.8" x2="487.72" y2="784.9" class="e"/>
<rect x="486.42" y="762" width="2.6" height="1.6" class="c"/>
<rect x="486.42" y="784.1" width="2.6" height="1.6" class="c"/>
<line x1="498.92" y1="753.8" x2="498.92" y2="775.1" class="e"/>
<rect x="497.62" y="753" width="2.6" height="1.6" class="c"/>
<rect x="497.62" y="774.3" width="2.6" height="1.6" class="c"/>
<line x1="521.32" y1="798.1" x2="521.32" y2="836.2" class="e"/>
<rect x="520.02" y="797.3" width="2.6" height="1.6" class="c"/>
<rect x="520.02" y="835.4" width="2.6" height="1.6" class="c"/>
<line x1="532.52" y1="807.1" x2="532.52" y2="843" class="e"/>
<rect x="531.22" y="806.3" width="2.6" height="1.6" class="c"/>
<rect x="531.22" y="842.2" width="2.6" height="1.6" class="c"/>
<text x="500.2" y="865.2" font-size="10" text-anchor="middle" textLength="78.4" lengthAdjust="spacingAndGlyphs">All-cause mortality</text>
<text x="443.6" y="678.6" font-size="23" font-weight="bold" text-anchor="middle">q</text>
<rect x="565.4" y="774" width="9.2" height="75.5" fill="#2a4a78"/>
<rect x="576.6" y="749" width="9.2" height="100.5" fill="#5b87b6"/>
<rect x="587.8" y="762.6" width="9.2" height="86.9" fill="#8ec5e3"/>
<rect x="599" y="743.3" width="9.2" height="106.2" fill="#fdd686"/>
<rect x="621.4" y="787.4" width="9.2" height="62.1" fill="#e66b57"/>
<rect x="632.6" y="801.8" width="9.2" height="47.7" fill="#8b5849"/>
<line x1="561.1" y1="849.5" x2="645.2" y2="849.5" class="ax"/>
<line x1="570" y1="754.3" x2="570" y2="793.5" class="e"/>
<rect x="568.7" y="753.5" width="2.6" height="1.6" class="c"/>
<rect x="568.7" y="792.7" width="2.6" height="1.6" class="c"/>
<line x1="581.2" y1="732.6" x2="581.2" y2="765" class="e"/>
<rect x="579.9" y="731.8" width="2.6" height="1.6" class="c"/>
<rect x="579.9" y="764.2" width="2.6" height="1.6" class="c"/>
<line x1="592.4" y1="740.7" x2="592.4" y2="783.8" class="e"/>
<rect x="591.1" y="739.9" width="2.6" height="1.6" class="c"/>
<rect x="591.1" y="783" width="2.6" height="1.6" class="c"/>
<line x1="603.6" y1="723.6" x2="603.6" y2="762.8" class="e"/>
<rect x="602.3" y="722.8" width="2.6" height="1.6" class="c"/>
<rect x="602.3" y="762" width="2.6" height="1.6" class="c"/>
<line x1="626" y1="736.3" x2="626" y2="835.8" class="e"/>
<rect x="624.7" y="735.5" width="2.6" height="1.6" class="c"/>
<rect x="624.7" y="835" width="2.6" height="1.6" class="c"/>
<line x1="637.2" y1="754.3" x2="637.2" y2="843.9" class="e"/>
<rect x="635.9" y="753.5" width="2.6" height="1.6" class="c"/>
<rect x="635.9" y="843.1" width="2.6" height="1.6" class="c"/>
<text x="604.3" y="865.2" font-size="10" text-anchor="middle" textLength="61" lengthAdjust="spacingAndGlyphs">CMD mortality</text>
<text x="546.6" y="678.6" font-size="24" font-weight="bold" text-anchor="middle">r</text>
<text x="34.1" y="704.2" font-size="10" text-anchor="end" textLength="17.5" lengthAdjust="spacingAndGlyphs">0.85</text>
<text x="34.1" y="728.5" font-size="10" text-anchor="end" textLength="17.5" lengthAdjust="spacingAndGlyphs">0.80</text>
<text x="34.1" y="753" font-size="10" text-anchor="end" textLength="17.5" lengthAdjust="spacingAndGlyphs">0.75</text>
<text x="34.1" y="777.8" font-size="10" text-anchor="end" textLength="17.5" lengthAdjust="spacingAndGlyphs">0.70</text>
<text x="34.1" y="802.6" font-size="10" text-anchor="end" textLength="17.5" lengthAdjust="spacingAndGlyphs">0.65</text>
<text x="34.1" y="826.9" font-size="10" text-anchor="end" textLength="17.5" lengthAdjust="spacingAndGlyphs">0.60</text>
<text x="649.6" y="704.2" font-size="10" textLength="17.6" lengthAdjust="spacingAndGlyphs">0.12</text>
<text x="649.6" y="728.7" font-size="10" textLength="17.6" lengthAdjust="spacingAndGlyphs">0.10</text>
<text x="649.6" y="753.4" font-size="10" textLength="17.6" lengthAdjust="spacingAndGlyphs">0.08</text>
<text x="649.6" y="778" font-size="10" textLength="17.6" lengthAdjust="spacingAndGlyphs">0.06</text>
<text x="649.6" y="803" font-size="10" textLength="17.6" lengthAdjust="spacingAndGlyphs">0.04</text>
<text x="649.6" y="827.2" font-size="10" textLength="17.6" lengthAdjust="spacingAndGlyphs">0.02</text>
<text x="0" y="0" font-size="9.5" text-anchor="middle" textLength="70.8" lengthAdjust="spacingAndGlyphs" transform="translate(7.2,762.4) rotate(-90)">Absolute C-index</text>
<text x="0" y="0" font-size="9.5" text-anchor="middle" textLength="37.7" lengthAdjust="spacingAndGlyphs" transform="translate(685.3,762.6) rotate(-90)">Δ C-index</text>
<text x="91.5" y="6.7" font-size="10" font-weight="bold" textLength="14.8" lengthAdjust="spacingAndGlyphs">Sex</text>
<rect x="122.3" y="2" width="16.3" height="5.7" fill="#2a4a78"/>
<text x="143.2" y="7.9" font-size="10" textLength="58.4" lengthAdjust="spacingAndGlyphs">Women FGCRS</text>
<rect x="214.3" y="2" width="16" height="5.7" fill="#5b87b6"/>
<text x="235.4" y="7.9" font-size="10" textLength="110.6" lengthAdjust="spacingAndGlyphs">Women FGCRS + RNFLMET</text>
<rect x="364.4" y="2" width="15.9" height="5.7" fill="#8ec5e3"/>
<text x="385.4" y="7.9" font-size="10" textLength="47" lengthAdjust="spacingAndGlyphs">Men FGCRS</text>
<rect x="444.9" y="2" width="16.2" height="5.7" fill="#fdd686"/>
<text x="466.4" y="7.9" font-size="10" textLength="99.1" lengthAdjust="spacingAndGlyphs">Men FGCRS + RNFLMET</text>
<rect x="248.9" y="29" width="16.3" height="5.8" fill="#e66b57"/>
<text x="272.4" y="35.1" font-size="10" textLength="59.7" lengthAdjust="spacingAndGlyphs">Women benefit</text>
<rect x="346" y="29" width="16" height="5.8" fill="#8b5849"/>
<text x="369.2" y="35.1" font-size="10" textLength="48.9" lengthAdjust="spacingAndGlyphs">Men benefit</text>
<text x="10" y="301.6" font-size="10" font-weight="bold" textLength="94.8" lengthAdjust="spacingAndGlyphs">Socioeconomic status</text>
<rect x="122" y="297" width="15.8" height="5.6" fill="#2a4a78"/>
<text x="142.7" y="302.8" font-size="10" textLength="74.3" lengthAdjust="spacingAndGlyphs">Higher-TDI FGCRS</text>
<rect x="230.2" y="297" width="15.8" height="5.6" fill="#5b87b6"/>
<text x="251.1" y="302.8" font-size="10" textLength="126.9" lengthAdjust="spacingAndGlyphs">Higher-TDI FGCRS + RNFLMET</text>
<rect x="397" y="297" width="15.8" height="5.6" fill="#8ec5e3"/>
<text x="417.9" y="302.8" font-size="10" textLength="72.3" lengthAdjust="spacingAndGlyphs">Lower-TDI FGCRS</text>
<rect x="503.5" y="297" width="15.9" height="5.6" fill="#fdd686"/>
<text x="524.6" y="302.8" font-size="10" textLength="125.1" lengthAdjust="spacingAndGlyphs">Lower-TDI FGCRS + RNFLMET</text>
<rect x="226.9" y="324.2" width="16" height="5.9" fill="#e66b57"/>
<text x="248.1" y="330.8" font-size="10" textLength="75.7" lengthAdjust="spacingAndGlyphs">Higher-TDI benefit</text>
<rect x="340.2" y="324.2" width="15.8" height="5.9" fill="#8b5849"/>
<text x="361" y="330.8" font-size="10" textLength="74" lengthAdjust="spacingAndGlyphs">Lower-TDI benefit</text>
<text x="1.6" y="606" font-size="10" font-weight="bold" textLength="104.3" lengthAdjust="spacingAndGlyphs">Educational attainment</text>
<rect x="122.5" y="599.5" width="15.7" height="5.8" fill="#2a4a78"/>
<text x="143.7" y="605.8" font-size="10" textLength="90.9" lengthAdjust="spacingAndGlyphs">Non-university FGCRS</text>
<rect x="248.1" y="599.5" width="15.8" height="5.8" fill="#5b87b6"/>
<text x="269.2" y="605.8" font-size="10" textLength="143.5" lengthAdjust="spacingAndGlyphs">Non-university FGCRS + RNFLMET</text>
<rect x="432.1" y="599.5" width="15.8" height="5.8" fill="#8ec5e3"/>
<text x="452.6" y="605.8" font-size="10" textLength="72.2" lengthAdjust="spacingAndGlyphs">University FGCRS</text>
<rect x="538.1" y="599.5" width="15.8" height="5.8" fill="#fdd686"/>
<text x="558.5" y="605.8" font-size="10" textLength="124" lengthAdjust="spacingAndGlyphs">University FGCRS + RNFLMET</text>
<rect x="230.6" y="627.9" width="16.2" height="6.1" fill="#e66b57"/>
<text x="251.8" y="634.6" font-size="10" textLength="93" lengthAdjust="spacingAndGlyphs">Non-university benefit</text>
<rect x="362.3" y="627.9" width="15.4" height="6.1" fill="#8b5849"/>
<text x="383.1" y="634.6" font-size="10" textLength="73.4" lengthAdjust="spacingAndGlyphs">University benefit</text>
</svg>
</body></html>
